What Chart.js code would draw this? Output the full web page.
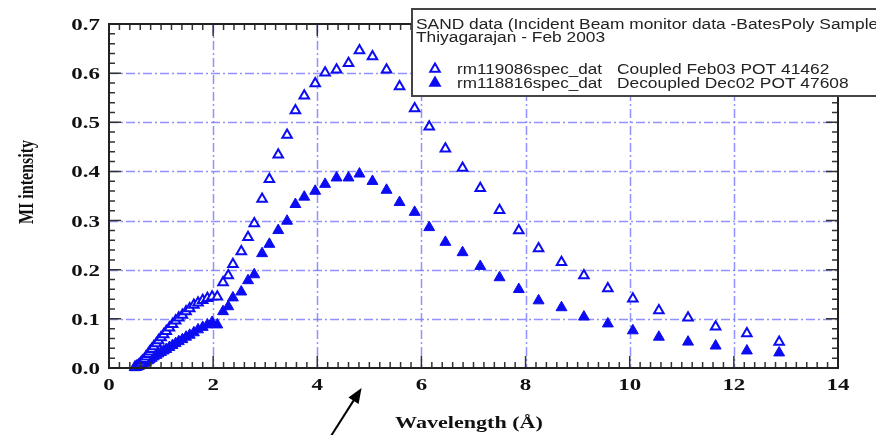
<!DOCTYPE html>
<html>
<head>
<meta charset="utf-8">
<script src="https://cdn.jsdelivr.net/npm/chart.js@4"></script>
<style>
  body { margin: 0; background: #fff; }
  canvas { display: block; }
</style>
</head>
<body>
<canvas id="chart" width="876" height="435"></canvas>
<script>
// ----- DATA -----
const wavelength = [0.50, 0.53, 0.56, 0.58, 0.61, 0.64, 0.68, 0.71, 0.75, 0.78,
  0.82, 0.86, 0.91, 0.95, 1.00, 1.05, 1.10, 1.16, 1.22, 1.28,
  1.34, 1.41, 1.48, 1.55, 1.63, 1.71, 1.80, 1.89, 1.98,
  2.08, 2.19, 2.29, 2.38, 2.54, 2.67, 2.79, 2.94, 3.08, 3.25,
  3.42, 3.58, 3.75, 3.96, 4.15, 4.37, 4.60, 4.81, 5.06, 5.33,
  5.58, 5.87, 6.15, 6.46, 6.79, 7.13, 7.50, 7.87, 8.25, 8.69,
  9.12, 9.58, 10.06, 10.56, 11.12, 11.65, 12.25, 12.87];

const coupled = [0.002, 0.003, 0.005, 0.007, 0.010, 0.014, 0.018, 0.023, 0.028, 0.033,
  0.038, 0.044, 0.050, 0.056, 0.062, 0.068, 0.075, 0.082, 0.089, 0.096,
  0.102, 0.108, 0.115, 0.121, 0.128, 0.133, 0.138, 0.142, 0.145,
  0.145, 0.174, 0.188, 0.211, 0.237, 0.266, 0.294, 0.344, 0.384, 0.434,
  0.474, 0.524, 0.554, 0.579, 0.601, 0.607, 0.620, 0.646, 0.634, 0.607,
  0.573, 0.528, 0.491, 0.446, 0.407, 0.366, 0.321, 0.280, 0.243, 0.215,
  0.188, 0.162, 0.141, 0.117, 0.102, 0.084, 0.070, 0.053];

const decoupled = [0.001, 0.002, 0.003, 0.004, 0.006, 0.008, 0.010, 0.012, 0.015, 0.017,
  0.020, 0.023, 0.026, 0.029, 0.032, 0.035, 0.038, 0.042, 0.046, 0.050,
  0.054, 0.058, 0.063, 0.067, 0.072, 0.078, 0.083, 0.088, 0.093,
  0.088, 0.115, 0.125, 0.143, 0.155, 0.178, 0.190, 0.233, 0.252, 0.280,
  0.299, 0.333, 0.348, 0.360, 0.374, 0.387, 0.387, 0.395, 0.380, 0.362,
  0.337, 0.317, 0.286, 0.256, 0.235, 0.207, 0.184, 0.160, 0.137, 0.123,
  0.104, 0.090, 0.076, 0.063, 0.053, 0.045, 0.035, 0.031];

const legendTitle = ['SAND data (Incident Beam monitor data -BatesPoly Sample',
  'Thiyagarajan - Feb 2003'];
const seriesNames = ['rm119086spec_dat', 'rm118816spec_dat'];
const seriesNotes = ['Coupled Feb03 POT 41462', 'Decoupled Dec02 POT 47608'];

const BLUE = '#0c0cf2';

function toPoints(ys) {
  return wavelength.map((x, i) => ({ x: x, y: ys[i] }));
}

// text in the scan is stretched sideways, so draw it with a scale
function wideText(ctx, text, x, y, sx, align) {
  ctx.save();
  ctx.translate(x, y);
  ctx.scale(sx, 1);
  ctx.textAlign = align;
  ctx.fillText(text, 0, 0);
  ctx.restore();
}

const framePlugin = {
  id: 'frame',
  beforeDatasetsDraw(chart) {
    const { ctx, chartArea: a, scales: { x, y } } = chart;
    ctx.save();
    ctx.strokeStyle = 'rgba(110,110,255,0.75)';
    ctx.lineWidth = 1.5;
    ctx.setLineDash([9, 3, 2, 3]);
    for (let v = 2; v <= 12; v += 2) {
      const px = Math.round(x.getPixelForValue(v)) + 0.5;
      ctx.beginPath(); ctx.moveTo(px, a.top); ctx.lineTo(px, a.bottom); ctx.stroke();
    }
    for (let i = 1; i <= 6; i++) {
      const py = Math.round(y.getPixelForValue(i / 10)) + 0.5;
      ctx.beginPath(); ctx.moveTo(a.left, py); ctx.lineTo(a.right, py); ctx.stroke();
    }
    ctx.restore();
  },
  afterDatasetsDraw(chart) {
    const { ctx, chartArea: a, scales: { x, y } } = chart;
    ctx.save();

    // minor + major ticks, all four sides, pointing inward
    ctx.strokeStyle = '#333';
    ctx.lineWidth = 1.5;
    for (let k = 0; k <= 70; k++) {
      const px = x.getPixelForValue(k * 0.2);
      const len = (k % 10 === 0) ? 12 : 6;
      ctx.beginPath();
      ctx.moveTo(px, a.bottom); ctx.lineTo(px, a.bottom - len);
      ctx.moveTo(px, a.top); ctx.lineTo(px, a.top + len);
      ctx.stroke();
    }
    for (let k = 0; k <= 35; k++) {
      const py = y.getPixelForValue(k * 0.02);
      const len = (k % 5 === 0) ? 12 : 6;
      ctx.beginPath();
      ctx.moveTo(a.left, py); ctx.lineTo(a.left + len, py);
      ctx.moveTo(a.right, py); ctx.lineTo(a.right - len, py);
      ctx.stroke();
    }
    ctx.lineWidth = 2;
    ctx.strokeStyle = '#222';
    ctx.strokeRect(a.left, a.top, a.right - a.left, a.bottom - a.top);

    // tick labels
    ctx.fillStyle = '#111';
    ctx.font = 'bold 17px "Liberation Serif"';
    ctx.textBaseline = 'alphabetic';
    x.ticks.forEach(t => {
      wideText(ctx, String(t.value), x.getPixelForValue(t.value), 390, 1.35, 'center');
    });
    y.ticks.forEach(t => {
      wideText(ctx, t.value.toFixed(1), 100, y.getPixelForValue(t.value) + 6, 1.35, 'right');
    });

    // axis titles
    ctx.font = 'bold 16px "Liberation Serif"';
    wideText(ctx, 'Wavelength (Å)', 469, 428, 1.38, 'center');
    ctx.save();
    ctx.translate(27, 182);
    ctx.rotate(-Math.PI / 2);
    ctx.scale(1, 1.35);
    ctx.textAlign = 'center';
    ctx.textBaseline = 'middle';
    ctx.fillText('MI intensity', 0, 0);
    ctx.restore();

    // legend box
    ctx.fillStyle = '#fff';
    ctx.fillRect(412, 9, 470, 87);
    ctx.strokeStyle = '#444';
    ctx.lineWidth = 2;
    ctx.strokeRect(412, 9, 470, 87);
    ctx.fillStyle = '#222';
    ctx.font = '14px "Liberation Sans"';
    ctx.textBaseline = 'alphabetic';
    wideText(ctx, legendTitle[0], 416, 29, 1.24, 'left');
    wideText(ctx, legendTitle[1], 416, 42, 1.24, 'left');
    [74, 88].forEach((by, i) => {
      wideText(ctx, seriesNames[i], 457, by, 1.22, 'left');
      wideText(ctx, seriesNotes[i], 617, by, 1.24, 'left');
      const cy = by - 5, r = 5.5;
      ctx.beginPath();
      ctx.moveTo(435, cy - r);
      ctx.lineTo(435 + r * 0.866, cy + r / 2);
      ctx.lineTo(435 - r * 0.866, cy + r / 2);
      ctx.closePath();
      ctx.lineWidth = 2;
      ctx.strokeStyle = BLUE;
      ctx.fillStyle = i === 0 ? '#fff' : BLUE;
      ctx.fill(); ctx.stroke();
      ctx.fillStyle = '#222';
    });

    // arrow under the axis, pointing at the peak
    const tipX = x.getPixelForValue(4.85), tipY = 388;
    const tailX = 331, tailY = 436;
    const ang = Math.atan2(tipY - tailY, tipX - tailX);
    ctx.strokeStyle = '#000';
    ctx.fillStyle = '#000';
    ctx.lineWidth = 2;
    ctx.beginPath();
    ctx.moveTo(tailX, tailY);
    ctx.lineTo(tipX - 12 * Math.cos(ang), tipY - 12 * Math.sin(ang));
    ctx.stroke();
    ctx.beginPath();
    ctx.moveTo(tipX, tipY);
    ctx.lineTo(tipX - 15 * Math.cos(ang) + 6 * Math.sin(ang), tipY - 15 * Math.sin(ang) - 6 * Math.cos(ang));
    ctx.lineTo(tipX - 15 * Math.cos(ang) - 6 * Math.sin(ang), tipY - 15 * Math.sin(ang) + 6 * Math.cos(ang));
    ctx.closePath();
    ctx.fill();

    ctx.restore();
  }
};

new Chart(document.getElementById('chart').getContext('2d'), {
  type: 'scatter',
  data: {
    datasets: [{
      label: seriesNames[0],
      data: toPoints(coupled),
      pointStyle: 'triangle',
      pointRadius: 5.5,
      borderWidth: 2,
      borderColor: BLUE,
      backgroundColor: '#fff',
      clip: false
    }, {
      label: seriesNames[1],
      data: toPoints(decoupled),
      pointStyle: 'triangle',
      pointRadius: 6.3,
      borderWidth: 1,
      borderColor: BLUE,
      backgroundColor: BLUE,
      clip: false
    }]
  },
  options: {
    responsive: false,
    animation: false,
    devicePixelRatio: 1,
    layout: { padding: { top: 24, right: 38, left: 0, bottom: 0 } },
    plugins: { legend: { display: false }, tooltip: { enabled: false } },
    scales: {
      x: {
        type: 'linear', min: 0, max: 14,
        ticks: { stepSize: 2, display: false },
        grid: { display: false, drawTicks: false },
        border: { display: false },
        afterFit: s => { s.height = 67; }
      },
      y: {
        type: 'linear', min: 0, max: 0.7,
        ticks: { stepSize: 0.1, display: false },
        grid: { display: false, drawTicks: false },
        border: { display: false },
        afterFit: s => { s.width = 109; }
      }
    }
  },
  plugins: [framePlugin]
});
</script>
</body>
</html>
